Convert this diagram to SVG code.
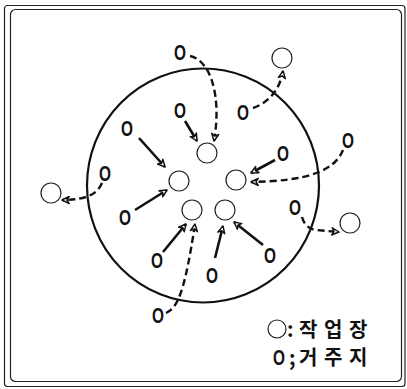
<svg xmlns="http://www.w3.org/2000/svg" width="407" height="389" viewBox="0 0 407 389">
<style>
.frame{fill:none;stroke:#222;stroke-width:1.2}
.big{fill:none;stroke:#111;stroke-width:2.2}
.ws{fill:#fff;stroke:#222;stroke-width:1.2}
.res{font-family:"Liberation Sans",Arial,sans-serif;font-weight:bold;font-size:22px;fill:#111;text-anchor:middle}
.solid{fill:none;stroke:#111;stroke-width:2.6;marker-end:url(#ah)}
.dash{fill:none;stroke:#111;stroke-width:2.4;stroke-dasharray:7 4;marker-end:url(#ah)}
.leg{font-family:"Noto Sans CJK KR","Noto Sans",sans-serif;font-weight:bold;font-size:20px;fill:#111}
</style>
<defs>
<marker id="ah" viewBox="0 0 10 10" refX="9" refY="5" markerWidth="9" markerHeight="9" markerUnits="userSpaceOnUse" orient="auto">
<path d="M1,1 L9,5 L1,9 L3.5,5 Z" fill="#fff" stroke="#111" stroke-width="1.6" stroke-linejoin="round"/>
</marker>
</defs>
<rect class="frame" x="4.5" y="5.5" width="400.5" height="381" rx="3"/>
<rect class="frame" x="10.5" y="9.5" width="391" height="372" rx="5"/>
<g id="region"><ellipse class="big" cx="203" cy="185.5" rx="116" ry="117"/></g>
<g id="connectors">
<path class="solid" d="M185,121 L197,141"/>
<path class="solid" d="M139,138 L165,167"/>
<path class="solid" d="M275,160 L251,173"/>
<path class="solid" d="M135,210 L167,190"/>
<path class="solid" d="M163,252 L186,224"/>
<path class="solid" d="M215,258 L223,226"/>
<path class="solid" d="M263,245 L234,222"/>
<path class="dash" d="M190,56 C210,60 222,95 214,141"/>
<path class="dash" d="M253,108 C268,103 280,90 283,71"/>
<path class="dash" d="M343,150 C335,170 310,181 251,182"/>
<path class="dash" d="M102,183 C98,192 90,200 62,200"/>
<path class="dash" d="M166,313 C178,308 185,290 195,224"/>
<path class="dash" d="M302,217 C304,224 308,229 316,230 L339,232"/>
</g>
<g id="workplaces">
<g id="w1"><circle class="ws" cx="207" cy="153" r="10"/></g>
<g id="w2"><circle class="ws" cx="179" cy="181" r="10"/></g>
<g id="w3"><circle class="ws" cx="236" cy="180" r="10"/></g>
<g id="w4"><circle class="ws" cx="192" cy="210" r="10"/></g>
<g id="w5"><circle class="ws" cx="225" cy="210" r="10"/></g>
<g id="w6"><circle class="ws" cx="282" cy="58" r="10"/></g>
<g id="w7"><circle class="ws" cx="51" cy="193" r="10"/></g>
<g id="w8"><circle class="ws" cx="350" cy="223" r="10"/></g>
</g>
<g id="residences">
<g id="r1"><text class="res" transform="translate(180,52) scale(0.7,1)" y="8">O</text></g>
<g id="r2"><text class="res" transform="translate(180,110) scale(0.7,1)" y="8">O</text></g>
<g id="r3"><text class="res" transform="translate(243,112) scale(0.7,1)" y="8">O</text></g>
<g id="r4"><text class="res" transform="translate(127,128) scale(0.7,1)" y="8">O</text></g>
<g id="r5"><text class="res" transform="translate(283,153) scale(0.7,1)" y="8">O</text></g>
<g id="r6"><text class="res" transform="translate(348,140) scale(0.7,1)" y="8">O</text></g>
<g id="r7"><text class="res" transform="translate(105,173) scale(0.7,1)" y="8">O</text></g>
<g id="r8"><text class="res" transform="translate(125,217) scale(0.7,1)" y="8">O</text></g>
<g id="r9"><text class="res" transform="translate(295,207) scale(0.7,1)" y="8">O</text></g>
<g id="r10"><text class="res" transform="translate(157,260) scale(0.7,1)" y="8">O</text></g>
<g id="r11"><text class="res" transform="translate(212,275) scale(0.7,1)" y="8">O</text></g>
<g id="r12"><text class="res" transform="translate(270,255) scale(0.7,1)" y="8">O</text></g>
<g id="r13"><text class="res" transform="translate(158,315) scale(0.7,1)" y="8">O</text></g>
</g>
<g id="legend">
<circle class="ws" cx="277" cy="329" r="9"/>
<text class="leg" x="287 299 324 349" y="337">:작업장</text>
<text class="res" transform="translate(279,357) scale(0.7,1)" y="8">O</text>
<text class="leg" x="289 299 324 349" y="365">;거주지</text>
</g>
</svg>
